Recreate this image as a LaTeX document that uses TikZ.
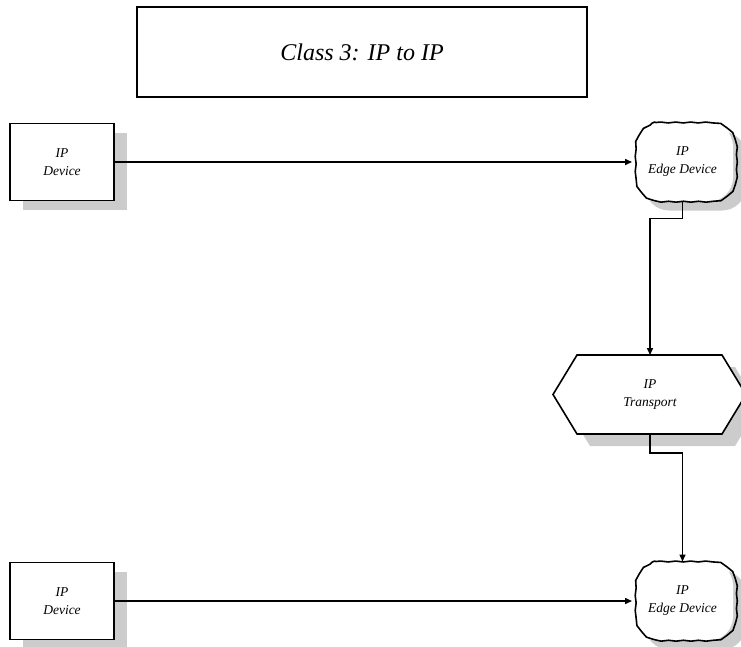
\documentclass[tikz,border=0pt]{standalone}
\usepackage{fontspec}
\setmainfont{Liberation Serif}
\usetikzlibrary{arrows.meta,shadows,decorations.pathmorphing}
\begin{document}
\begin{tikzpicture}[x=1pt,y=-1pt,
  lbl/.style={font=\fontsize{13.5}{18}\selectfont\itshape, align=center, inner sep=0pt, outer sep=0pt},
  shadowed/.style={drop shadow={shadow xshift=13pt, shadow yshift=-9pt, fill=black!20, opacity=1}},
  devbox/.style={lbl, draw, line width=1.6pt, fill=white, shadowed,
    minimum width=104pt, minimum height=77pt},
  edgebox/.style={lbl, fill=white, shadowed,
    rounded corners=24pt, minimum width=101pt, minimum height=79pt},
  wavy/.style={line width=1.6pt, decorate,
    decoration={snake, amplitude=0.45pt, segment length=15pt}},
  conn/.style={line width=1.5pt, -{Triangle[length=7pt,width=6pt]}}]
\useasboundingbox (0,0) rectangle (741,646);

% wavy outline of a rounded edge-device box
\newcommand\edgeoutline[1]{%
  \draw[wavy]
    ([xshift=24pt]#1.north west) -- ([xshift=-24pt]#1.north east)
    .. controls ([xshift=-11pt]#1.north east) and ([yshift=-11pt]#1.north east) ..
    ([yshift=-24pt]#1.north east) -- ([yshift=24pt]#1.south east)
    .. controls ([yshift=11pt]#1.south east) and ([xshift=-11pt]#1.south east) ..
    ([xshift=-24pt]#1.south east) -- ([xshift=24pt]#1.south west)
    .. controls ([xshift=11pt]#1.south west) and ([yshift=11pt]#1.south west) ..
    ([yshift=24pt]#1.south west) -- ([yshift=-24pt]#1.north west)
    .. controls ([yshift=-11pt]#1.north west) and ([xshift=11pt]#1.north west) ..
    cycle;}

% heading
\node[draw, line width=1.8pt, minimum width=450pt, minimum height=90pt,
      font=\fontsize{24}{28}\selectfont\itshape, inner sep=0pt]
      (title) at (362,52) {Class 3: IP to IP};

% transport body (hexagon) with its shadow
\fill[black!20] (590,367) -- (735,367) -- (759,406.5) -- (735,446) -- (590,446) -- (566,406.5) -- cycle;
\draw[line width=1.6pt, fill=white] (577,355) -- (722,355) -- (746,394.5) -- (722,434) -- (577,434) -- (553,394.5) -- cycle;
\node[lbl, minimum width=145pt, minimum height=79pt] (transport) at (650,394.5) {IP\\Transport};

% end devices and edge devices
\node[devbox] (dev1) at (62,162) {IP\\Device};
\node[edgebox] (edge1) at (682.5,162) {IP\\Edge Device};
\edgeoutline{edge1}
\node[devbox] (dev2) at (62,601) {IP\\Device};
\node[edgebox] (edge2) at (682.5,601) {IP\\Edge Device};
\edgeoutline{edge2}

% links
\draw[conn] (dev1.east) -- (edge1.west);
\draw[conn] (edge1.south) -- ++(0,17) -| (transport.north);
\draw[conn] (transport.south) -- ++(0,19) -| (edge2.north);
\draw[conn] (dev2.east) -- (edge2.west);
\end{tikzpicture}
\end{document}
